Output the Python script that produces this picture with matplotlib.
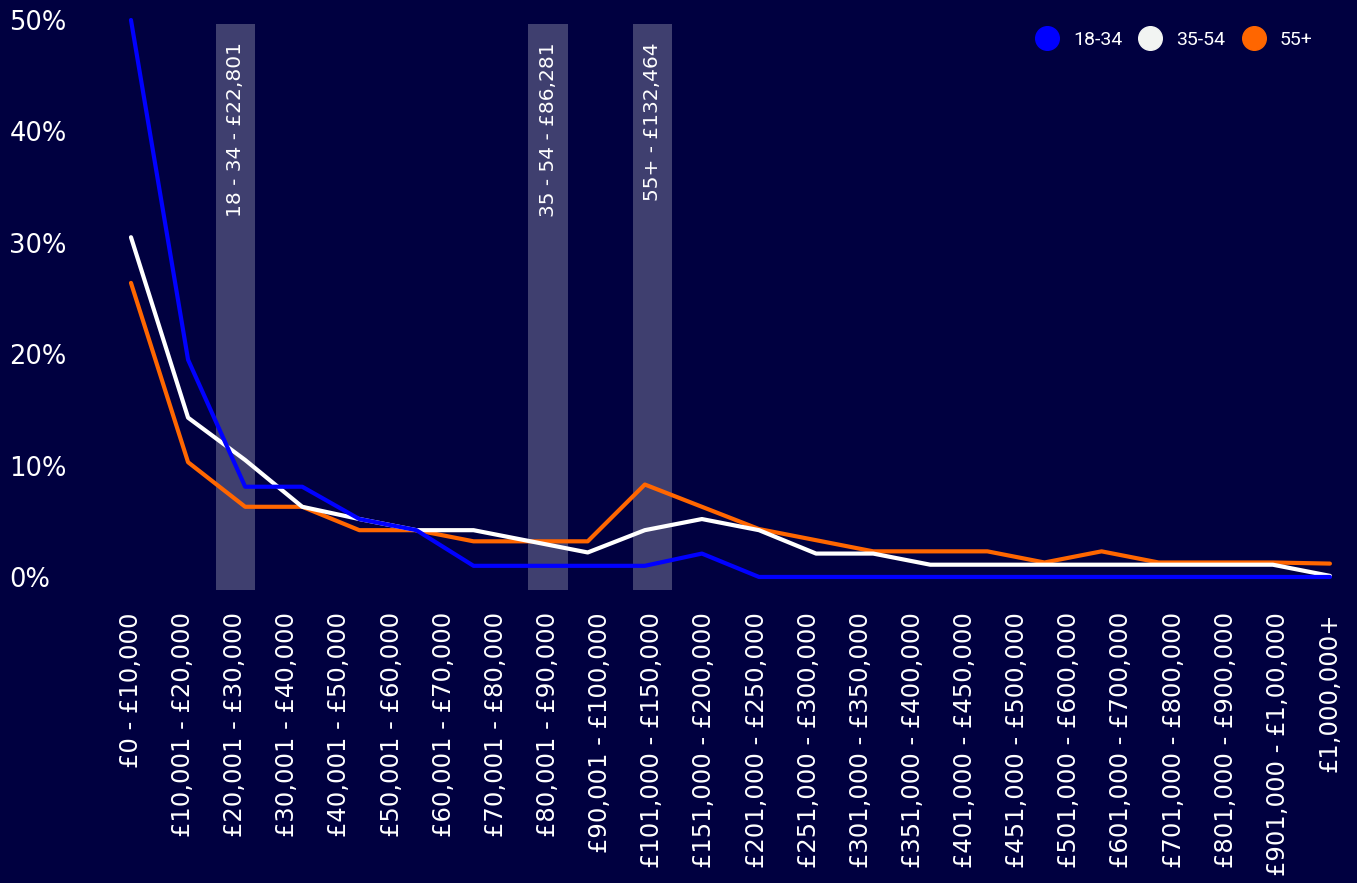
# Salary distribution by age group, dark navy theme
import numpy as np
import matplotlib
matplotlib.use("Agg")
import matplotlib.pyplot as plt
from matplotlib.lines import Line2D

# x-axis salary bands
bands = ["£0 - £10,000", "£10,001 - £20,000", "£20,001 - £30,000", "£30,001 - £40,000",
         "£40,001 - £50,000", "£50,001 - £60,000", "£60,001 - £70,000", "£70,001 - £80,000",
         "£80,001 - £90,000", "£90,001 - £100,000", "£101,000 - £150,000", "£151,000 - £200,000",
         "£201,000 - £250,000", "£251,000 - £300,000", "£301,000 - £350,000", "£351,000 - £400,000",
         "£401,000 - £450,000", "£451,000 - £500,000", "£501,000 - £600,000", "£601,000 - £700,000",
         "£701,000 - £800,000", "£801,000 - £900,000", "£901,000 - £1,00,000", "£1,000,000+"]

# share of respondents (%) per age group
age_18_34 = [50, 19.5, 8.1, 8.1, 5.2, 4.2, 1.0, 1.0, 1.0, 1.0, 2.1, 0, 0, 0, 0, 0, 0, 0, 0, 0, 0, 0]
age_35_54 = [30.5, 14.3, 10.5, 6.3, 5.2, 4.2, 4.2, 3.2, 2.2, 4.2, 5.2, 4.2, 2.1, 2.1, 1.1, 1.1,
             1.1, 1.1, 1.1, 1.1, 1.1, 0.1]
age_55_plus = [26.4, 10.3, 6.3, 6.3, 4.2, 4.2, 3.2, 3.2, 3.2, 8.3, 6.3, 4.3, 3.3, 2.3, 2.3, 2.3,
               1.3, 2.3, 1.3, 1.3, 1.3, 1.2]

series_names = ["18-34", "35-54", "55+"]
series_colors = ["#0000ff", "#ffffff", "#ff6600"]

# average salary markers
avg_bands = ["£20,001 - £30,000", "£80,001 - £90,000", "£101,000 - £150,000"]
avg_labels = ["18 - 34 - £22,801", "35 - 54 - £86,281", "55+ - £132,464"]

yticks = [0, 10, 20, 30, 40, 50]

bg = "#000040"
plt.rcParams["font.family"] = ["DejaVu Sans"]

fig = plt.figure(figsize=(13.57, 8.83), dpi=100, facecolor=bg)
W, H = 1357, 883
left, right, top, bottom = 99.7, 1356, 20, 590
ax = fig.add_axes([left / W, 1 - bottom / H, (right - left) / W, (bottom - top) / H])
ax.set_facecolor(bg)

xcat = np.arange(len(bands))
xline = np.linspace(0, len(bands) - 1, len(age_18_34))

# highlight bands for the averages
for b, lab in zip(avg_bands, avg_labels):
    i = bands.index(b)
    ax.axvspan(i - 0.375, i + 0.375, ymin=0, ymax=0.993, color="white", alpha=0.25,
               lw=0, zorder=1)
    ax.text(i, 48, lab, rotation=90, ha="center", va="top", color="white",
            fontsize=14.5, zorder=2)

data = [age_18_34, age_35_54, age_55_plus]
for k in [2, 1, 0]:
    ax.plot(xline, data[k], color=series_colors[k], lw=3.0, solid_capstyle="round",
            solid_joinstyle="round", zorder=3 + (2 - k), clip_on=False)

ax.set_xlim(-0.6, len(bands) - 0.5)
ax.set_ylim(-1.17, 50)
ax.set_xticks(xcat)
ax.set_xticklabels(bands, rotation=90, color="white", fontsize=17.5, va="top")
ax.set_yticks(yticks)
ax.set_yticklabels([f"{v}%" for v in yticks], color="white", fontsize=18.5, ha="left")
ax.tick_params(axis="y", length=0, pad=65)
ax.tick_params(axis="x", length=0, pad=16)
for s in ax.spines.values():
    s.set_visible(False)

handles = [Line2D([], [], ls="none", marker="o", ms=17, mfc=c, mec=c) for c in series_colors]
handles[1].set_markerfacecolor("#f2f4f2")
handles[1].set_markeredgecolor("#f2f4f2")
leg = fig.legend(handles, series_names, loc="center right", bbox_to_anchor=(1330 / W, 1 - 40 / H),
                 ncol=3, frameon=False, prop={"family": "Roboto", "size": 14}, labelcolor="white",
                 handlelength=1.0, handletextpad=0.84, columnspacing=0.95)

fig.savefig("out.png", dpi=100, facecolor=bg)
